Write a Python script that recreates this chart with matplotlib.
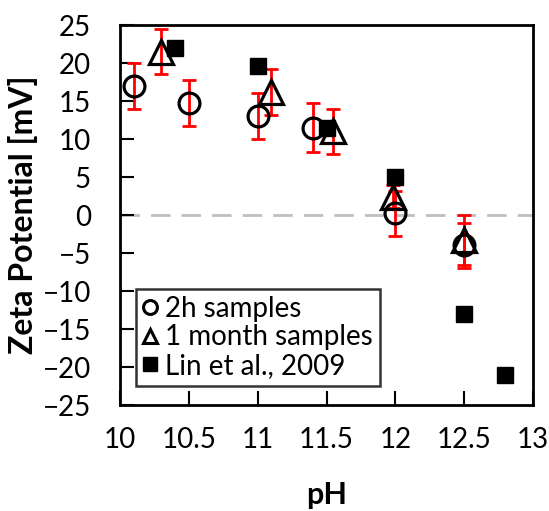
import matplotlib
matplotlib.use("Agg")
import matplotlib.pyplot as plt
from matplotlib.lines import Line2D

plt.rcParams['font.family'] = ['Lato', 'DejaVu Sans']

# 2h samples
ph_2h = [10.1, 10.5, 11.0, 11.4, 12.0, 12.5]
zp_2h = [17.0, 14.7, 13.0, 11.5, 0.2, -4.0]
err_2h = [3.0, 3.0, 3.0, 3.2, 3.0, 3.0]

# 1 month samples
ph_1m = [10.3, 11.1, 11.55, 11.98, 12.5]
zp_1m = [21.5, 16.2, 11.0, 2.4, -3.3]
err_1m = [3.0, 3.0, 3.0, 1.5, 3.3]

# Lin et al., 2009
ph_lin = [10.4, 11.0, 11.5, 12.0, 12.5, 12.8]
zp_lin = [22.0, 19.6, 11.4, 5.0, -13.0, -21.0]

xticks = [10, 10.5, 11, 11.5, 12, 12.5, 13]
xticklabels = ['10', '10.5', '11', '11.5', '12', '12.5', '13']
yticks = list(range(-25, 30, 5))
legend_labels = ['2h samples', '1 month samples', 'Lin et al., 2009']

fig = plt.figure(figsize=(5.49, 5.11), dpi=100)
ax = fig.add_axes([120/549, 1 - 405/511, (533-120)/549, (405-25)/511])

ax.axhline(0, color='#bfbfbf', lw=2, dashes=(7, 4), zorder=1)

ax.errorbar(ph_2h, zp_2h, yerr=err_2h, fmt='none', ecolor='red', elinewidth=2,
            capsize=5, capthick=2, zorder=2)
ax.errorbar(ph_1m, zp_1m, yerr=err_1m, fmt='none', ecolor='red', elinewidth=2,
            capsize=5, capthick=2, zorder=2)

ax.plot(ph_2h, zp_2h, 'o', ms=15, mfc='none', mec='black', mew=2.3, zorder=3)
ax.plot(ph_lin, zp_lin, 's', ms=12, mfc='black', mec='black', zorder=4)
ax.plot(ph_1m, zp_1m, '^', ms=17, mfc='none', mec='black', mew=2.3, zorder=5)

ax.set_xlim(10, 13)
ax.set_ylim(-25, 25)
ax.set_xticks(xticks)
ax.set_xticklabels(xticklabels)
ax.set_yticks(yticks)
ax.tick_params(direction='in', length=10, width=1.5, labelsize=20, pad=16)
ax.tick_params(axis='y', pad=21)
for s in ax.spines.values():
    s.set_linewidth(2)

ax.set_xlabel('pH', fontsize=22, fontweight='bold', labelpad=20)
ax.set_ylabel('Zeta Potential [mV]', fontsize=23, fontweight='bold')
ax.yaxis.set_label_coords((38 - 120) / 413, 0.5)

hs = [Line2D([], [], marker='o', ls='none', ms=10, mfc='none', mec='black', mew=2.2),
      Line2D([], [], marker='^', ls='none', ms=10, mfc='none', mec='black', mew=2.2),
      Line2D([], [], marker='s', ls='none', ms=10, mfc='black', mec='black')]
leg = ax.legend(hs, legend_labels,
                loc='lower left', bbox_to_anchor=((136-120)/413, (405-386)/380),
                fontsize=20, frameon=True, fancybox=False, edgecolor='black',
                handlelength=0.5, handletextpad=0.3, borderpad=0.25,
                labelspacing=0.1, borderaxespad=0)
leg.get_frame().set_linewidth(1.8)

fig.savefig('out.png', dpi=100)
